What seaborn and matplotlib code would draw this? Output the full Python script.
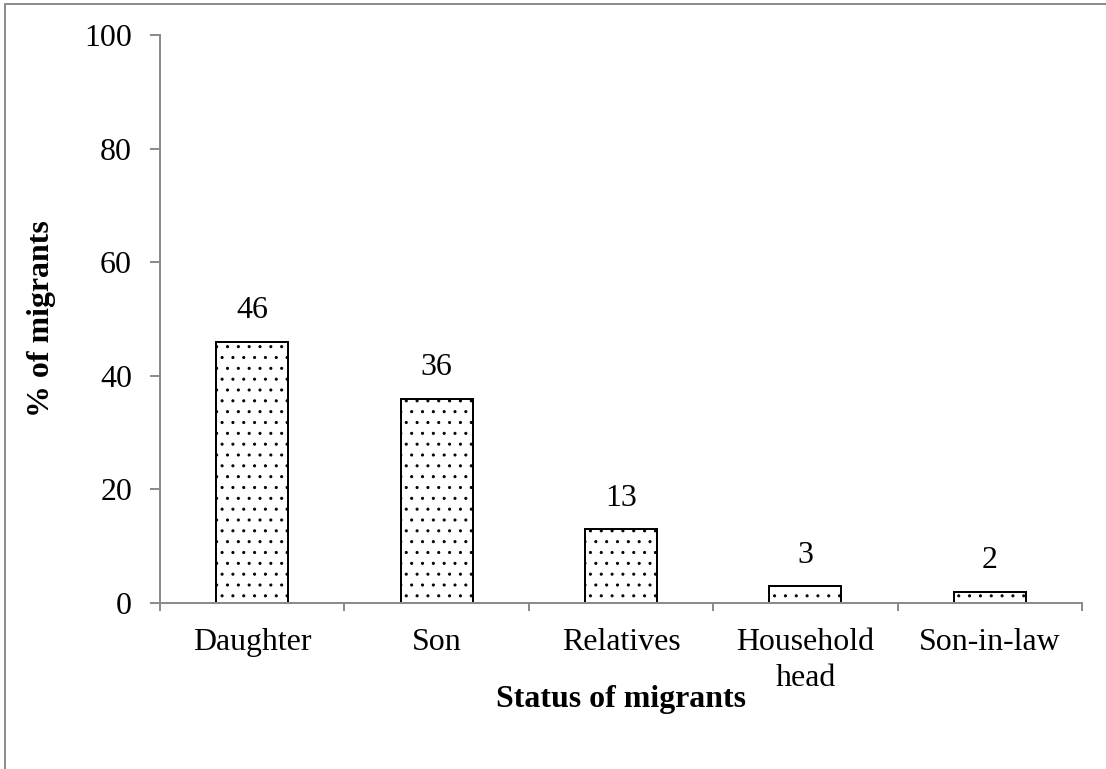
import matplotlib
matplotlib.use("Agg")
import matplotlib.pyplot as plt
from matplotlib.lines import Line2D
from matplotlib.ticker import FixedLocator
import seaborn as sns
import pandas as pd

# Household status of migrants (% of migrants)
categories = ["Daughter", "Son", "Relatives", "Household\nhead", "Son-in-law"]
percent = [46, 36, 13, 3, 2]
y_ticks = [0, 20, 40, 60, 80, 100]

sns.set_theme(style="white")
plt.rcParams["font.family"] = ["Liberation Serif", "DejaVu Serif"]
plt.rcParams["hatch.linewidth"] = 0.5
plt.rcParams["text.color"] = "black"
plt.rcParams["axes.labelcolor"] = "black"

DPI = 130
fig = plt.figure(figsize=(1106 / DPI, 769 / DPI), dpi=DPI)
W, H = 1106, 769
ax = fig.add_axes([160 / W, 1 - 603 / H, (1082 - 160) / W, (603 - 35) / H])

df = pd.DataFrame({"status": categories, "pct": percent})
sns.barplot(data=df, x="status", y="pct", ax=ax, color="white",
            edgecolor="black", linewidth=1.1, width=0.39, hatch="..",
            saturation=1)

FS = 17.7
ax.bar_label(ax.containers[0], labels=[str(v) for v in percent],
             padding=9, fontsize=FS, color="black")

ax.set_xlim(-0.5, len(categories) - 0.5)
ax.set_ylim(0, 100)
ax.set_yticks(y_ticks)
ax.set_yticklabels([str(t) for t in y_ticks], fontsize=FS)
ax.set_xticks(range(len(categories)))
ax.set_xticklabels(categories, fontsize=FS, linespacing=1.3)
ax.xaxis.set_minor_locator(FixedLocator([i - 0.5 for i in range(len(categories) + 1)]))

axis_grey = "#8c8c8c"
for side in ("top", "right"):
    ax.spines[side].set_visible(False)
for side in ("left", "bottom"):
    ax.spines[side].set_color(axis_grey)
    ax.spines[side].set_linewidth(1.1)

ax.tick_params(axis="y", which="major", direction="out", length=5.5,
               width=1.1, color=axis_grey, pad=10, left=True, labelcolor="black")
ax.tick_params(axis="x", which="major", length=0, pad=14, bottom=True,
               labelcolor="black")
ax.tick_params(axis="x", which="minor", direction="out", length=4.5,
               width=1.1, color=axis_grey, bottom=True)

ax.set_xlabel("Status of migrants", fontsize=FS, fontweight="bold", color="black")
ax.set_ylabel("% of migrants", fontsize=FS, fontweight="bold", color="black")
ax.xaxis.set_label_coords(0.5, -0.144)
ax.yaxis.set_label_coords(-0.113, 0.5)

# outer chart frame (left and top edges)
fig.add_artist(Line2D([5 / W, 5 / W], [0, 1 - 3.5 / H], transform=fig.transFigure,
                      color=axis_grey, linewidth=1.1))
fig.add_artist(Line2D([5 / W, 1], [1 - 3.5 / H, 1 - 3.5 / H], transform=fig.transFigure,
                      color=axis_grey, linewidth=1.1))

fig.savefig("out.png", dpi=DPI, facecolor="white")
